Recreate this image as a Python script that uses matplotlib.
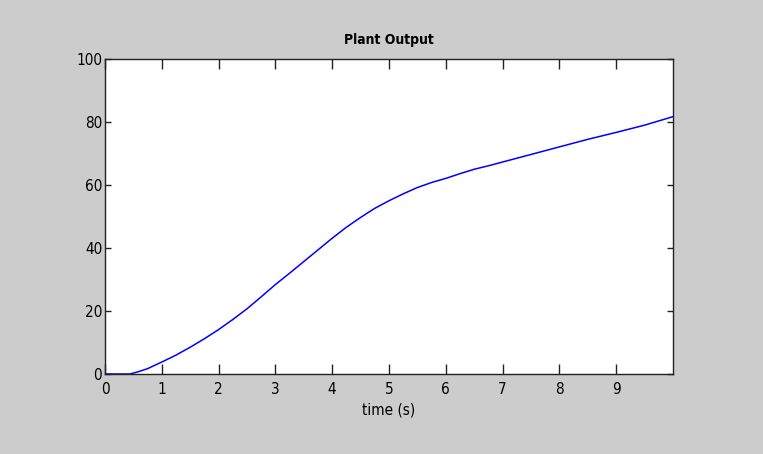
import matplotlib
matplotlib.use("Agg")
import matplotlib.pyplot as plt

# plant response
time_s = [0, 0.25, 0.44, 0.6, 0.75, 1.0, 1.25, 1.5, 1.75, 2.0, 2.25, 2.5,
          2.75, 3.0, 3.25, 3.5, 3.75, 4.0, 4.25, 4.5, 4.75, 5.0, 5.25, 5.5,
          5.75, 6.0, 6.25, 6.5, 6.75, 7.0, 7.5, 8.0, 8.5, 9.0, 9.5, 10.0]
output = [0, 0, 0, 0.8, 1.7, 3.8, 6.0, 8.5, 11.2, 14.1, 17.3, 20.7,
          24.5, 28.4, 32.0, 35.7, 39.4, 43.1, 46.6, 49.7, 52.6, 55.0, 57.2, 59.2,
          60.8, 62.1, 63.6, 65.0, 66.1, 67.3, 69.7, 72.1, 74.5, 76.7, 79.0, 81.7]
x_ticks = [0, 1, 2, 3, 4, 5, 6, 7, 8, 9]
y_ticks = [0, 20, 40, 60, 80, 100]

# narrow matlab-ish look
plt.rcParams['font.family'] = ['DejaVu Sans']
plt.rcParams['font.stretch'] = 'condensed'

fig = plt.figure(figsize=(7.63, 4.54), dpi=100)
fig.patch.set_facecolor('#cccccc')
ax = fig.add_axes([0.1376, 0.1762, 0.7444, 0.6938])
ax.set_facecolor('white')

ax.plot(time_s, output, color='#0000ff', lw=1.1)

ax.set_xlim(0, 10)
ax.set_ylim(0, 100)
ax.set_xticks(x_ticks)
ax.set_yticks(y_ticks)
ax.tick_params(axis='x', direction='in', top=True, length=7, width=1,
               labelsize=11, pad=6, color='#222222')
ax.tick_params(axis='y', direction='in', right=True, length=4.5, width=1,
               labelsize=11, pad=2, color='#222222')
for s in ax.spines.values():
    s.set_color('#222222')
    s.set_linewidth(1)

ax.set_title('Plant Output', fontsize=10, fontweight='bold', pad=11)
ax.set_xlabel('time (s)', fontsize=11, labelpad=4)

fig.savefig('out.png', dpi=100, facecolor=fig.get_facecolor())
